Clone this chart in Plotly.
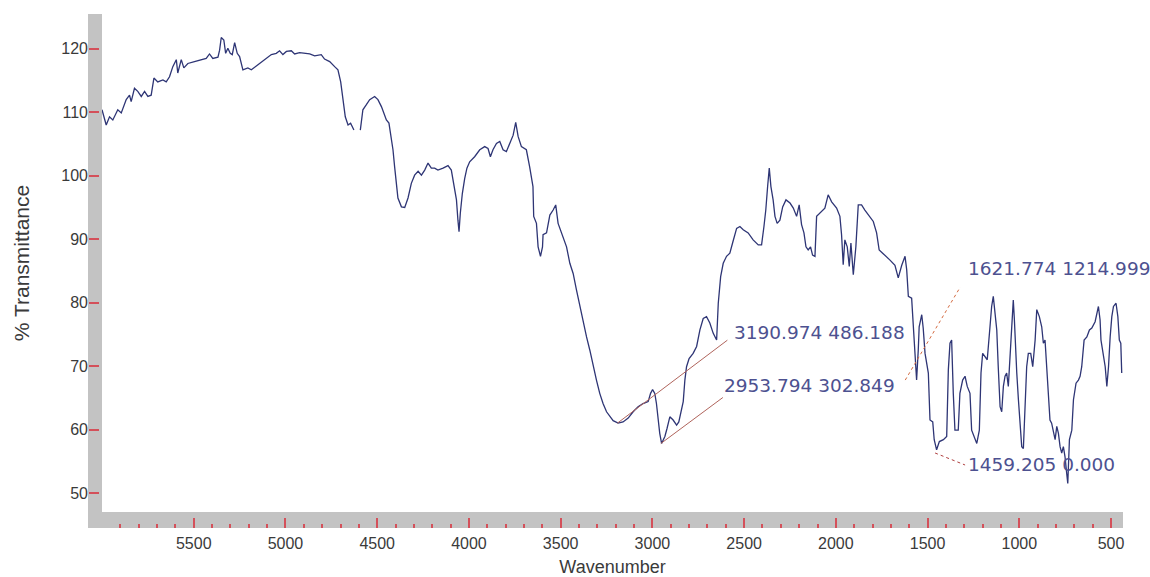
import plotly.graph_objects as go

# IR spectrum, read as (wavenumber cm-1, % transmittance) pairs, high to low wavenumber
wn_a = [6000, 5977, 5959, 5941, 5914, 5895, 5868, 5850, 5841, 5823,
        5805, 5786, 5768, 5750, 5732, 5717, 5696, 5668, 5650, 5632,
        5614, 5595, 5587, 5568, 5554, 5532, 5496, 5459, 5432, 5414,
        5396, 5368, 5359, 5350, 5336, 5326, 5314, 5301, 5290, 5277,
        5263, 5250, 5232, 5205, 5186, 5150, 5114, 5077, 5050, 5032,
        5014, 4995, 4968, 4950, 4923, 4896, 4868, 4841, 4805, 4787,
        4759, 4732, 4714, 4699, 4687, 4674, 4659,
        4645, 4627, 4610, 4592, 4578, 4559, 4541, 4514, 4496, 4477,
        4459, 4450, 4436]
t_a = [110.4, 108.0, 109.3, 108.8, 110.4, 109.9, 112.0, 112.7, 111.7, 113.8,
       113.3, 112.5, 113.3, 112.5, 112.7, 115.4, 114.8, 115.1, 114.8, 115.6,
       117.2, 118.3, 116.2, 118.3, 117.0, 117.7, 118.0, 118.3, 118.5, 119.2,
       118.5, 118.7, 119.8, 121.8, 121.4, 119.3, 120.1, 119.3, 119.1, 121.0,
       119.3, 118.8, 116.7, 117.0, 116.7, 117.5, 118.3, 119.1, 119.3, 119.7,
       119.1, 119.6, 119.7, 119.2, 119.4, 119.3, 119.2, 118.9, 119.1, 118.4,
       118.0, 117.2, 116.7, 114.8, 112.0, 109.3, 108.0,
       108.3, 107.2, None, 107.2, 110.4, 111.2, 112.0, 112.5, 112.0, 110.9,
       109.6, 108.8, 108.3]

wn_b = [4414, 4405, 4396, 4387, 4368, 4350, 4332, 4314, 4296, 4277,
        4259, 4241, 4223, 4205, 4187, 4169, 4141, 4114, 4096, 4087,
        4078, 4068, 4060, 4054, 4047, 4036, 4023, 4011, 3996, 3969,
        3941, 3914, 3896, 3883, 3869, 3850, 3832, 3814, 3796, 3778,
        3759, 3745, 3732, 3714, 3687, 3669, 3651, 3647, 3632, 3623,
        3610, 3599, 3596, 3577, 3559, 3541, 3527, 3514, 3490, 3468,
        3450, 3432, 3414, 3396, 3378, 3359, 3341, 3323, 3305, 3287,
        3269, 3250, 3232, 3214, 3187, 3160, 3132, 3105, 3078, 3051,
        3023]
t_b = [104.1, 101.4, 98.3, 96.5, 95.1, 95.0, 96.5, 98.8, 100.1, 100.7,
       100.1, 100.9, 102.0, 101.2, 101.2, 100.9, 101.2, 101.6, 100.9, 99.3,
       98.3, 96.2, 93.0, 91.2, 94.1, 97.2, 99.6, 101.2, 102.2, 103.0,
       104.1, 104.6, 104.3, 103.0, 104.1, 105.1, 105.4, 104.1, 103.8, 105.1,
       106.4, 108.4, 106.2, 104.6, 104.1, 101.4, 98.3, 93.6, 92.5, 88.8,
       87.3, 88.8, 90.7, 91.0, 93.8, 94.6, 95.4, 92.5, 90.4, 88.8,
       86.2, 84.6, 82.0, 79.4, 76.8, 74.6, 72.5, 69.9, 67.8, 65.7,
       64.1, 62.8, 62.0, 61.4, 61.0, 61.2, 61.8, 62.8, 63.6, 64.1,
       64.4]

wn_c = [3010, 2999, 2987, 2978, 2969, 2960, 2950, 2932, 2920, 2905,
        2887, 2868, 2856, 2841, 2832, 2823, 2814, 2800, 2778, 2759,
        2741, 2723, 2705, 2687, 2669, 2650, 2641, 2628, 2614, 2596,
        2578, 2563, 2541, 2523, 2505, 2478, 2451, 2423, 2405, 2392,
        2382, 2372, 2363, 2354, 2342, 2332, 2320, 2305, 2290, 2272,
        2250, 2232, 2214, 2200, 2187, 2174, 2163, 2151, 2138, 2127,
        2114, 2105, 2078, 2060, 2042]
t_c = [65.7, 66.3, 65.7, 64.1, 61.5, 59.4, 57.8, 58.9, 60.2, 62.0,
       61.5, 60.7, 61.2, 63.1, 64.4, 67.8, 69.9, 71.2, 72.0, 73.1,
       75.7, 77.5, 77.8, 76.8, 75.2, 74.1, 79.9, 84.1, 86.2, 87.3,
       87.8, 89.4, 91.7, 92.0, 91.5, 91.0, 89.9, 89.1, 89.1, 92.0,
       94.6, 98.3, 101.2, 98.3, 96.2, 93.6, 92.5, 93.0, 95.1, 96.2,
       95.7, 94.9, 93.6, 95.4, 92.3, 91.0, 88.8, 88.3, 88.8, 87.5,
       87.3, 93.6, 94.4, 94.9, 97.0]

wn_d = [2023, 1996, 1978, 1969, 1960, 1951, 1938, 1927, 1918, 1905,
        1891, 1878, 1860, 1842, 1814, 1796, 1778, 1764, 1745, 1724,
        1705, 1678, 1660, 1641, 1623, 1614, 1605, 1587, 1578, 1569,
        1560, 1551, 1546, 1532, 1524, 1514, 1496, 1487, 1472, 1464,
        1451, 1436, 1414, 1396, 1387, 1378, 1369, 1360, 1351, 1333,
        1324, 1309, 1296, 1284, 1269, 1260, 1242, 1232, 1218, 1209,
        1200, 1187, 1175, 1160, 1151, 1142]
t_d = [95.9, 94.9, 93.6, 90.7, 86.0, 89.9, 88.8, 85.7, 89.4, 84.4,
       88.8, 95.4, 95.4, 94.6, 93.6, 92.8, 91.0, 88.3, 87.8, 87.3,
       86.7, 85.9, 83.9, 85.9, 87.3, 85.2, 81.0, 80.7, 76.2, 70.4,
       67.8, 72.5, 76.2, 78.1, 76.0, 72.0, 68.9, 61.5, 61.2, 58.4,
       56.8, 58.1, 58.4, 58.9, 69.4, 73.6, 74.1, 65.7, 59.9, 59.9,
       65.7, 67.8, 68.4, 66.8, 65.7, 59.9, 58.4, 57.8, 59.9, 68.9,
       72.0, 71.5, 71.0, 76.2, 79.4, 81.0]

wn_e = [1133, 1123, 1115, 1105, 1096, 1087, 1078, 1069, 1060, 1047,
        1033, 1027, 1023, 1014, 1005, 996, 987, 978, 969, 960,
        951, 938, 927, 914, 905, 891, 878, 869, 860, 851,
        842, 833, 824, 815, 805, 796, 787, 778, 769, 760,
        751, 742, 736, 727, 714, 705, 691, 678, 669, 660,
        647, 632, 618, 605, 587, 569, 560, 555, 545, 532,
        523, 514, 505, 496, 487, 473, 463, 455, 447, 442]
t_e = [78.9, 75.7, 69.9, 63.6, 62.8, 66.8, 68.4, 68.9, 66.8, 74.1,
       80.4, 77.3, 73.6, 68.9, 64.7, 60.5, 57.3, 57.0, 64.7, 69.9,
       72.0, 72.0, 69.9, 74.1, 78.9, 77.8, 76.2, 73.6, 74.1, 69.9,
       66.8, 61.5, 61.0, 59.9, 58.4, 60.5, 59.4, 57.3, 56.3, 57.3,
       55.7, 53.1, 51.5, 58.4, 59.9, 64.7, 67.3, 67.8, 68.4, 69.9,
       74.1, 74.6, 75.7, 76.0, 77.0, 79.4, 77.3, 74.1, 72.0, 69.9,
       66.8, 69.9, 74.6, 77.8, 79.4, 79.9, 77.8, 74.1, 73.6, 68.9]

wavenumber = wn_a + wn_b + wn_c + wn_d + wn_e
transmittance = t_a + t_b + t_c + t_d + t_e
assert len(wavenumber) == len(transmittance)

# Peak-pick labels: (wavenumber, %T at the pick, label text)
peak_wn = [3190.974, 2953.794, 1621.774, 1459.205]
peak_t = [61.0, 57.8, 67.8, 56.3]
peak_text = ["3190.974 486.188", "2953.794 302.849", "1621.774 1214.999", "1459.205 0.000"]

# Axis ticks
x_tickvals = [6000, 5500, 5000, 4500, 4000, 3500, 3000, 2500, 2000, 1500, 1000, 500]
x_ticktext = ["", "5500", "5000", "4500", "4000", "3500", "3000", "2500", "2000", "1500", "1000", "500"]
y_tickvals = [50, 60, 70, 80, 90, 100, 110, 120]
y_ticktext = ["50", "60", "70", "80", "90", "100", "110", "120"]

AXIS_FONT = "Liberation Sans, Arial, sans-serif"
LABEL_FONT = "DejaVu Sans, Verdana, sans-serif"
TEXT_GRAY = "#3a3a3a"
TICK_RED = "#d4505a"
BAND_GRAY = "#c3c3c3"
LINE_NAVY = "#2e3575"
LABEL_BLUE = "#4d5190"

# figure/paper geometry (pixels)
W, H = 1150, 577
ML, MR, MT, MB = 88, 27, 14, 49
BAND = 14  # width of the grey axis bands
paper_w = W - ML - MR
paper_h = H - MT - MB
x_dom0 = BAND / paper_w
y_dom0 = 16 / paper_h

fig = go.Figure()
fig.add_trace(go.Scatter(
    x=wavenumber, y=transmittance, mode="lines",
    line=dict(color=LINE_NAVY, width=1.3),
    connectgaps=False, showlegend=False,
))

# leader lines: (dx, dy) pixel offset of the far end from the pick, plus dash style
leader = [(110, 83, "solid"), (62, 46, "solid"), (55, 93, "dot"), (30, -12, "dot")]
leader_color = ["#b0645c", "#b0645c", "#d46a40", "#b04040"]
# text anchor offsets (pixels) from the pick
label_shift = [(115, 91), (61, 58), (61, 112), (31, -11)]

shapes = [
    dict(type="rect", xref="paper", yref="paper", x0=0, x1=x_dom0, y0=0, y1=1,
         fillcolor=BAND_GRAY, line_width=0, layer="below"),
    dict(type="rect", xref="paper", yref="paper", x0=0, x1=1, y0=0, y1=y_dom0,
         fillcolor=BAND_GRAY, line_width=0, layer="below"),
]
annotations = []
for i in range(len(peak_wn)):
    dx, dy, dash = leader[i]
    shapes.append(dict(
        type="line", xref="x", yref="y",
        xsizemode="pixel", ysizemode="pixel",
        xanchor=peak_wn[i], yanchor=peak_t[i],
        x0=0, y0=0, x1=dx, y1=dy,
        line=dict(color=leader_color[i], width=1, dash=dash),
    ))
    sx, sy = label_shift[i]
    annotations.append(dict(
        x=peak_wn[i], y=peak_t[i], xref="x", yref="y",
        text=peak_text[i], showarrow=False,
        xanchor="left", yanchor="middle", xshift=sx, yshift=sy,
        font=dict(family=LABEL_FONT, size=18.5, color=LABEL_BLUE),
    ))

fig.update_layout(
    width=W, height=H,
    margin=dict(l=ML, r=MR, t=MT, b=MB, autoexpand=False),
    paper_bgcolor="white", plot_bgcolor="white",
    shapes=shapes, annotations=annotations,
    xaxis=dict(
        range=[6000, 435], domain=[x_dom0, 1], anchor="free", position=0,
        automargin=False,
        tickmode="array", tickvals=x_tickvals, ticktext=x_ticktext,
        ticks="inside", ticklen=10, tickwidth=1.5, tickcolor=TICK_RED,
        minor=dict(dtick=100, tick0=0, ticks="inside", ticklen=4,
                   tickwidth=1.5, tickcolor=TICK_RED, showgrid=False),
        showgrid=False, zeroline=False, showline=False,
        tickfont=dict(family=AXIS_FONT, size=16, color=TEXT_GRAY),
        ticklabelstandoff=4,
        title=dict(text="Wavenumber", standoff=13,
                   font=dict(family=AXIS_FONT, size=18, color=TEXT_GRAY)),
    ),
    yaxis=dict(
        range=[47, 125.5], domain=[y_dom0, 1], anchor="free", position=0,
        automargin=False,
        tickmode="array", tickvals=y_tickvals, ticktext=y_ticktext,
        ticks="inside", ticklen=10, tickwidth=1.5, tickcolor=TICK_RED,
        showgrid=False, zeroline=False, showline=False,
        tickfont=dict(family=AXIS_FONT, size=16, color=TEXT_GRAY),
        title=dict(text="% Transmittance", standoff=24,
                   font=dict(family=AXIS_FONT, size=21, color=TEXT_GRAY)),
    ),
)

fig.write_html("out.html")
